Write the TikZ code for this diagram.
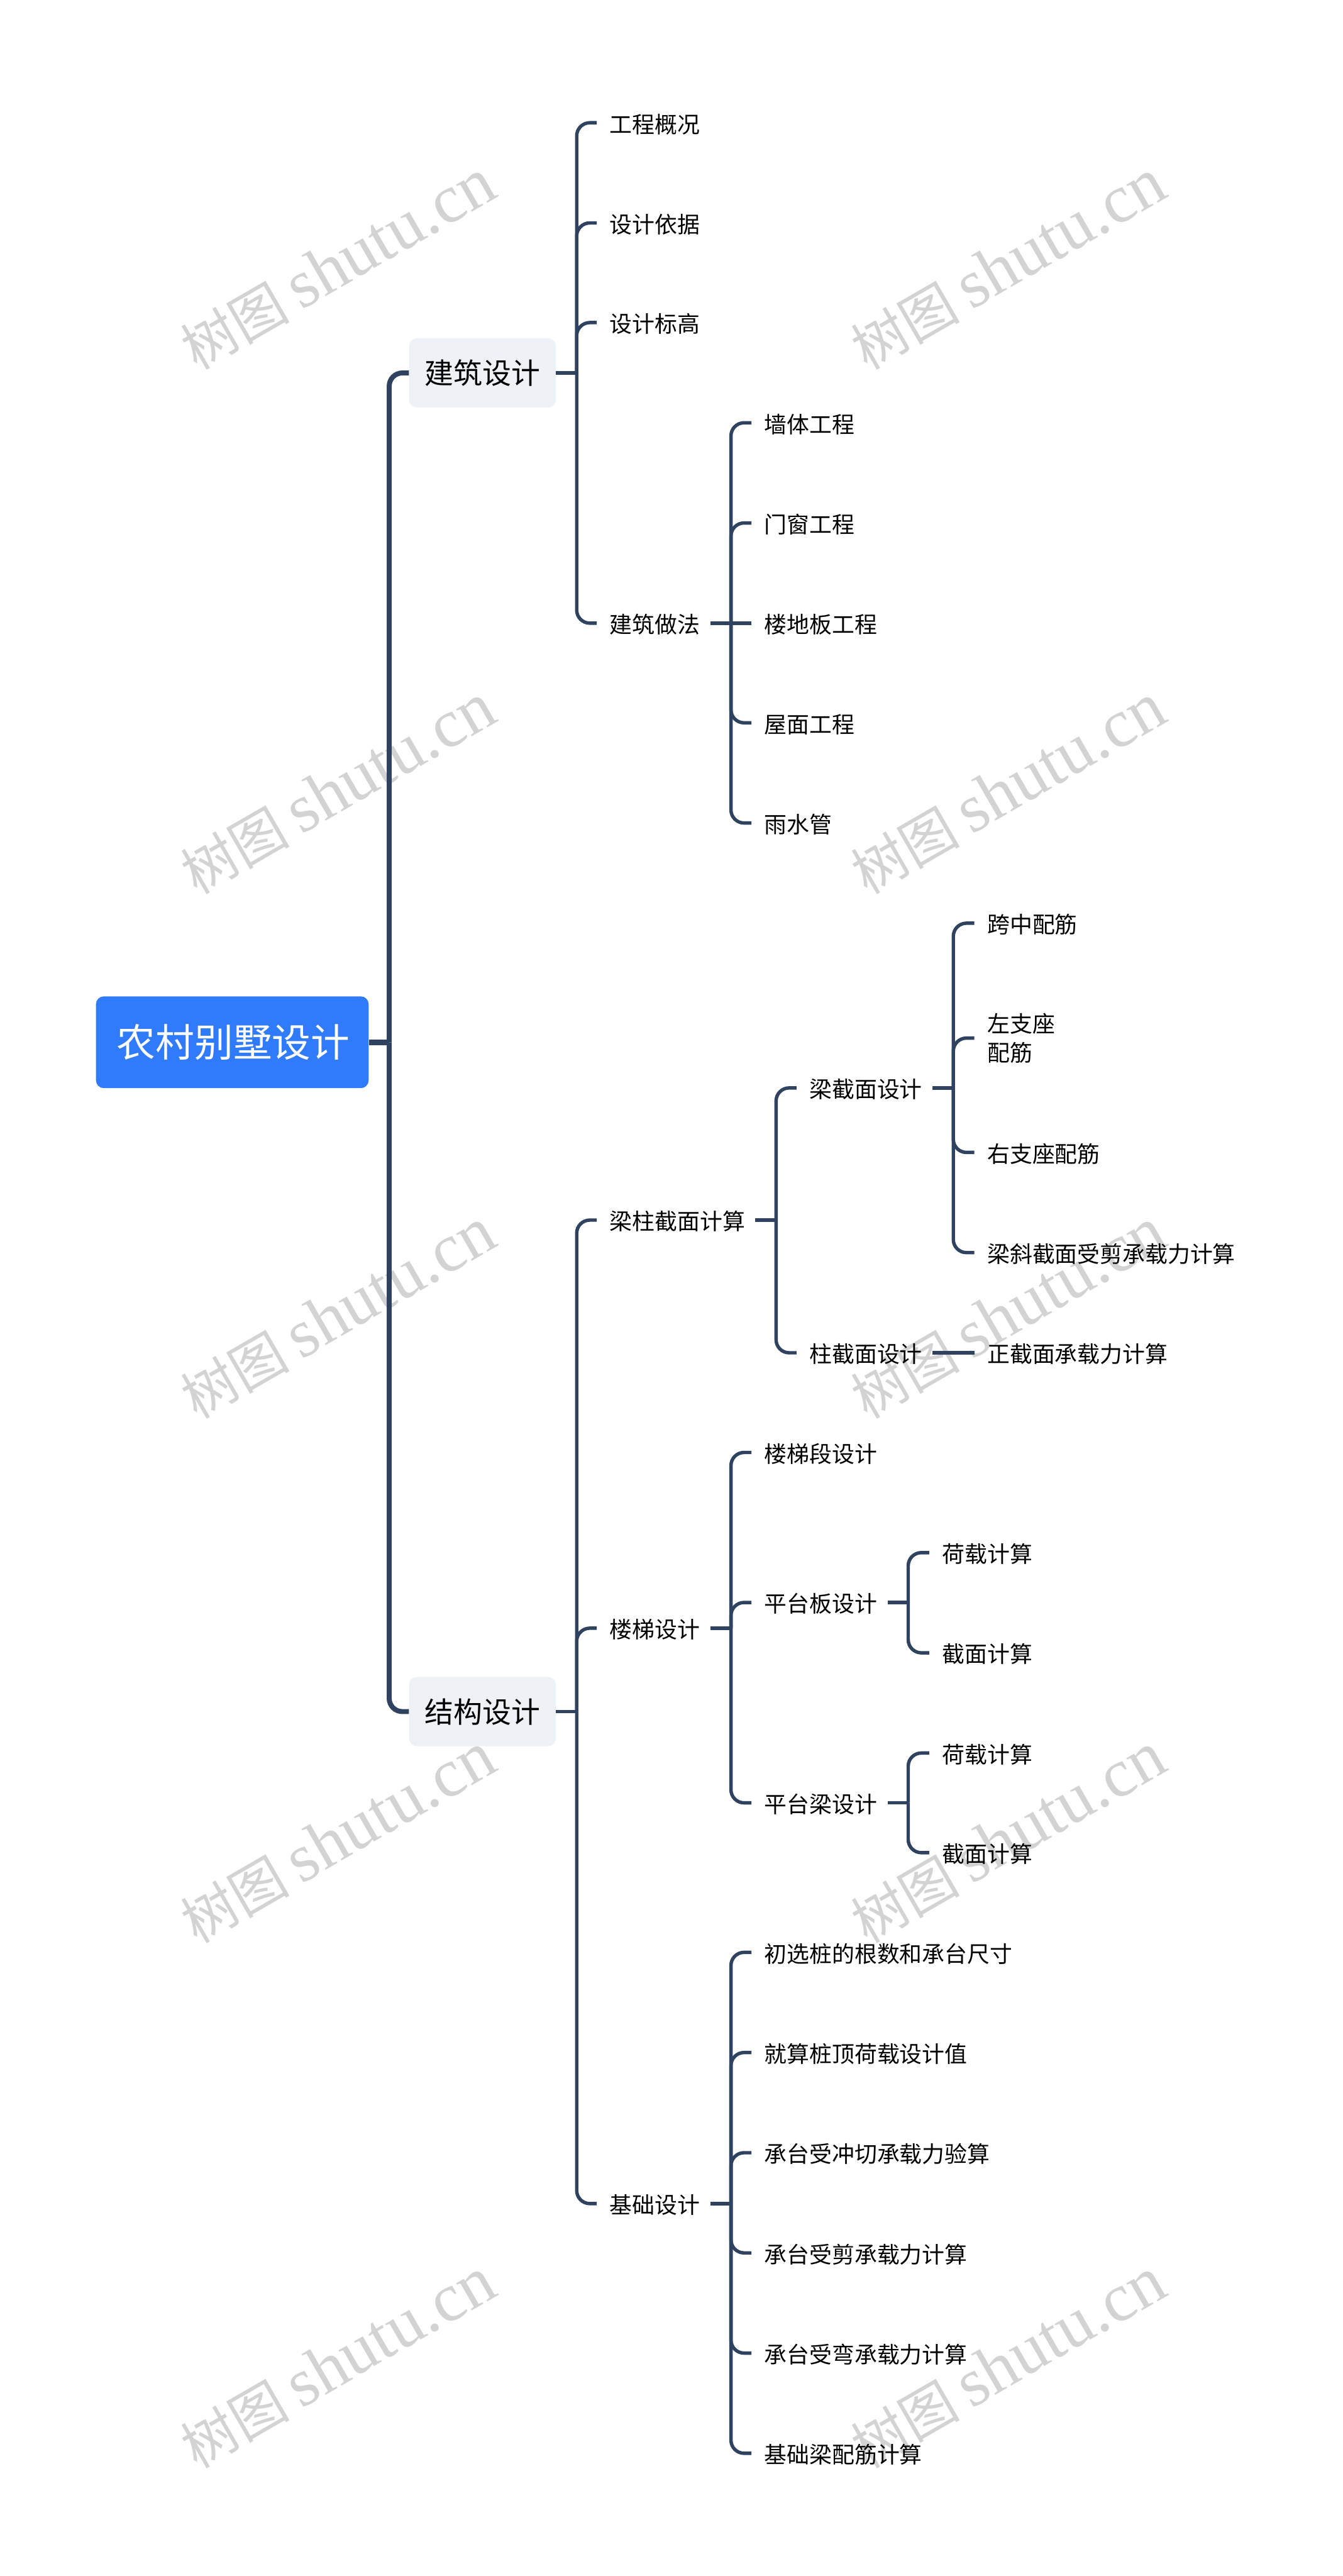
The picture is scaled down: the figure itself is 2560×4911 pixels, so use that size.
\documentclass[tikz,border=0pt]{standalone}
\usepackage{fontspec}
\usetikzlibrary{calc}
\setmainfont{Noto Sans CJK SC}
\newfontfamily\wmcjk{Noto Sans CJK SC}
\newfontfamily\wmlat{Liberation Serif}
\definecolor{linkc}{HTML}{2F4360}
\definecolor{rootc}{HTML}{2F7BFB}
\definecolor{boxc}{HTML}{EEF1F5}
\definecolor{wmc}{HTML}{D3D3D3}
\tikzset{
  rootnode/.style={fill=rootc,text=white,rounded corners=15pt,minimum width=520pt,minimum height=175pt,inner sep=0pt,text height=65pt,text depth=9pt,font=\fontsize{74}{90}\selectfont},
  boxnode/.style={fill=boxc,text=black,rounded corners=15pt,minimum width=280pt,minimum height=132pt,inner sep=0pt,text height=49pt,text depth=7pt,font=\fontsize{55}{70}\selectfont},
  leaf/.style={anchor=west,inner xsep=22pt,inner ysep=0pt,text=black,text height=43pt,text depth=5pt,font=\fontsize{43}{55}\selectfont,execute at begin node={\hspace{2.5pt}},execute at end node={\hspace{-2.5pt}}},
  leaftwo/.style={anchor=west,inner xsep=24.5pt,inner ysep=0pt,text=black,align=left,font=\fontsize{43}{55}\selectfont},
  link/.style={draw=linkc,line width=6.5pt,rounded corners=25pt},
  trunk/.style={draw=linkc,line width=9.5pt,rounded corners=25pt},
  wmark/.style={text=wmc,rotate=30,inner sep=0pt}
}
\newcommand{\mykids}[2]{%
  \coordinate (j#1) at ($(#1.east)+(39.5,0)$);
  \draw[link] (#1.east) -- (j#1);
  \foreach \c in {#2} { \draw[link] (j#1) |- (\c.west); }
}
\newcommand{\wm}[3]{\node[wmark] (#1) at (#2,#3) {{\wmcjk\fontsize{104}{110}\selectfont 树图}\hspace{22pt}{\wmlat\fontsize{130}{135}\selectfont shutu.cn}};}
\begin{document}
\begin{tikzpicture}[x=1pt,y=-1pt]
\useasboundingbox (0,0) rectangle (2560,4911);
\fill[white] (0,0) rectangle (2560,4911);
% watermarks
\wm{wa}{644}{505}\wm{wb}{1922}{505}
\wm{wc}{644}{1505}\wm{wd}{1922}{1505}
\wm{we}{644}{2505}\wm{wf}{1922}{2505}
\wm{wg}{644}{3505}\wm{wh}{1922}{3505}
\wm{wi}{644}{4505}\wm{wj}{1922}{4505}
% nodes
\node[rootnode] (root) at (443,1987) {\hspace{4pt}农村别墅设计};
\node[boxnode] (arch) at (920,711) {建筑设计};
\node[boxnode] (stru) at (920,3263) {结构设计};
\node[leaf] (a1) at (1138,234) {工程概况};
\node[leaf] (a2) at (1138,425) {设计依据};
\node[leaf] (a3) at (1138,615) {设计标高};
\node[leaf] (a4) at (1138,1188) {建筑做法};
\node[leaf] (b1) at (1433,806) {墙体工程};
\node[leaf] (b2) at (1433,997) {门窗工程};
\node[leaf] (b3) at (1433,1188) {楼地板工程};
\node[leaf] (b4) at (1433,1378) {屋面工程};
\node[leaf] (b5) at (1433,1569) {雨水管};
\node[leaf] (c1) at (1138,2326) {梁柱截面计算};
\node[leaf] (c2) at (1138,3104) {楼梯设计};
\node[leaf] (c3) at (1138,4201) {基础设计};
\node[leaf] (d1) at (1519,2074) {梁截面设计};
\node[leaf] (d2) at (1519,2579) {柱截面设计};
\node[leaf] (e1) at (1858,1760) {跨中配筋};
\node[leaftwo] (e2) at (1858,1979) {左支座\\配筋};
\node[leaf] (e3) at (1858,2197) {右支座配筋};
\node[leaf] (e4) at (1858,2388) {梁斜截面受剪承载力计算};
\node[leaf] (e5) at (1858,2579) {正截面承载力计算};
\node[leaf] (f1) at (1433,2769) {楼梯段设计};
\node[leaf] (f2) at (1433,3055) {平台板设计};
\node[leaf] (f3) at (1433,3437) {平台梁设计};
\node[leaf] (g1) at (1772,2960) {荷载计算};
\node[leaf] (g2) at (1772,3151) {截面计算};
\node[leaf] (g3) at (1772,3342) {荷载计算};
\node[leaf] (g4) at (1772,3532) {截面计算};
\node[leaf] (h1) at (1433,3722) {初选桩的根数和承台尺寸};
\node[leaf] (h2) at (1433,3913) {就算桩顶荷载设计值};
\node[leaf] (h3) at (1433,4104) {承台受冲切承载力验算};
\node[leaf] (h4) at (1433,4295) {承台受剪承载力计算};
\node[leaf] (h5) at (1433,4486) {承台受弯承载力计算};
\node[leaf] (h6) at (1433,4677) {基础梁配筋计算};
% trunk
\coordinate (jroot) at ($(root.east)+(39,0)$);
\draw[draw=linkc,line width=11pt] (root.east) -- (jroot);
\draw[trunk] (jroot) |- (arch.west);
\draw[trunk] (jroot) |- (stru.west);
% branches
\mykids{arch}{a1,a2,a3,a4}
\mykids{a4}{b1,b2,b4,b5}
\draw[link] (ja4) -- (b3.west);
\mykids{stru}{c1,c2,c3}
\mykids{c1}{d1,d2}
\mykids{d1}{e1,e2,e3,e4}
\draw[link] (d2.east) -- (e5.west);
\mykids{c2}{f1,f2,f3}
\mykids{f2}{g1,g2}
\mykids{f3}{g3,g4}
\mykids{c3}{h1,h2,h3,h4,h5,h6}
\end{tikzpicture}
\end{document}
